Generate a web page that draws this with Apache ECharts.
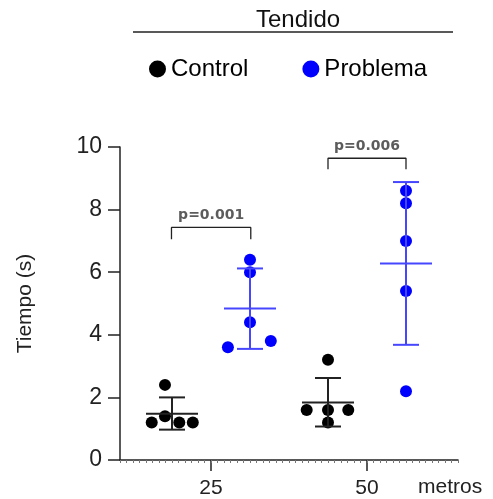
<!DOCTYPE html>
<html>
<head>
<meta charset="utf-8">
<script src="https://cdn.jsdelivr.net/npm/echarts@6/dist/echarts.min.js"></script>
<style>html,body{margin:0;padding:0;background:#fff}#main{width:493px;height:499px}</style>
</head>
<body>
<div id="main"></div>
<script>
var distanceTicks = [3.5, 9.5];
var distanceLabels = ['25', '50'];
var seriesNames = ['Control', 'Problema'];

// individual points: [x position, tiempo (s)]
var control25 = [[1.73, 2.4], [1.73, 1.4], [1.22, 1.2], [2.28, 1.2], [2.8, 1.2]];
var problema25 = [[5, 6.4], [5, 6.0], [5, 4.4], [4.15, 3.6], [5.8, 3.8]];
var control50 = [[8, 3.2], [7.18, 1.6], [8, 1.6], [8.78, 1.6], [8, 1.2]];
var problema50 = [[11, 8.6], [11, 8.2], [11, 7.0], [11, 5.4], [11, 2.2]];

// mean and SD bars: [x position, mean, mean-SD, mean+SD]
var controlBars = [[2, 1.48, 0.97, 2.0], [8, 1.84, 1.07, 2.62]];
var problemaBars = [[5, 4.84, 3.55, 6.12], [11, 6.28, 3.68, 8.88]];

// significance brackets
var bracketLeft = [1.98, 8.0];
var bracketRight = [5.03, 11.0];
var bracketTop = [7.43, 9.64];
var bracketFoot = [7.05, 9.29];
var pValues = ['p=0.001', 'p=0.006'];

var blackDot = '#000000';
var blueDot = '#0000ff';

var myChart = echarts.init(document.getElementById('main'));

function barRenderer(color) {
    return function (params, api) {
        var x = api.value(0);
        var unit = api.size([1, 0])[0];
        var pm = api.coord([x, api.value(1)]);
        var pl = api.coord([x, api.value(2)]);
        var ph = api.coord([x, api.value(3)]);
        var st = {stroke: color, lineWidth: 2};
        return {
            type: 'group',
            children: [
                {type: 'line', shape: {x1: pm[0] - unit, y1: pm[1], x2: pm[0] + unit, y2: pm[1]}, style: st},
                {type: 'line', shape: {x1: pl[0], y1: pl[1], x2: ph[0], y2: ph[1]}, style: st},
                {type: 'line', shape: {x1: pl[0] - unit / 2, y1: pl[1], x2: pl[0] + unit / 2, y2: pl[1]}, style: st},
                {type: 'line', shape: {x1: ph[0] - unit / 2, y1: ph[1], x2: ph[0] + unit / 2, y2: ph[1]}, style: st}
            ]
        };
    };
}

var bracketSeries = [];
var pLabelData = [];
for (var i = 0; i < pValues.length; i++) {
    bracketSeries.push({
        type: 'line',
        silent: true,
        symbol: 'none',
        lineStyle: {color: '#222', width: 1.3},
        data: [[bracketLeft[i], bracketFoot[i]], [bracketLeft[i], bracketTop[i]],
               [bracketRight[i], bracketTop[i]], [bracketRight[i], bracketFoot[i]]]
    });
    pLabelData.push({value: [(bracketLeft[i] + bracketRight[i]) / 2, bracketTop[i]], label: {formatter: pValues[i]}});
}

option = {
    animation: false,
    title: {
        text: 'Tendido',
        left: 251,
        top: 3,
        textStyle: {fontFamily: 'Liberation Sans', fontSize: 24, fontWeight: 'normal', color: '#111'}
    },
    legend: {
        data: seriesNames,
        icon: 'circle',
        left: 144,
        top: 52,
        itemWidth: 17,
        itemHeight: 17,
        itemGap: 54,
        textStyle: {fontFamily: 'Liberation Sans', fontSize: 24, color: '#000'}
    },
    graphic: [
        {type: 'line', shape: {x1: 133, y1: 32, x2: 453, y2: 32}, style: {stroke: '#222', lineWidth: 1.5}},
        {type: 'text', left: 418, top: 477, style: {text: 'metros', fontFamily: 'Liberation Sans', fontSize: 21, fill: '#222'}}
    ],
    grid: {left: 120, right: 35, top: 147, bottom: 37, containLabel: false},
    xAxis: [{
        type: 'value',
        min: 0,
        max: 13,
        axisLine: {lineStyle: {color: '#222', width: 1.5}},
        axisTick: {customValues: distanceTicks, length: 11, lineStyle: {color: '#222', width: 1.5}},
        axisLabel: {
            customValues: distanceTicks,
            margin: 18,
            fontFamily: 'Liberation Sans',
            fontSize: 21,
            color: '#222',
            formatter: function (v) {
                return distanceLabels[distanceTicks.indexOf(v)];
            }
        },
        splitLine: {show: false}
    }, {
        type: 'value',
        min: 0,
        max: 13,
        interval: 0.25,
        position: 'bottom',
        axisLine: {show: false},
        axisTick: {length: 3, lineStyle: {color: '#777', width: 1}},
        axisLabel: {show: false},
        splitLine: {show: false}
    }],
    yAxis: {
        type: 'value',
        min: 0,
        max: 10,
        interval: 2,
        name: 'Tiempo (s)',
        nameLocation: 'middle',
        nameGap: 84,
        nameTextStyle: {fontFamily: 'Liberation Sans', fontSize: 21, color: '#222'},
        axisLine: {show: true, lineStyle: {color: '#222', width: 1.5}},
        axisTick: {show: true, length: 12, lineStyle: {color: '#222', width: 1.5}},
        axisLabel: {margin: 18, fontFamily: 'Liberation Sans', fontSize: 23, color: '#222'},
        splitLine: {show: false}
    },
    series: [
        {name: 'Control', type: 'scatter', symbolSize: 12, itemStyle: {color: blackDot, opacity: 1}, data: control25.concat(control50), z: 3},
        {name: 'Problema', type: 'scatter', symbolSize: 12, itemStyle: {color: blueDot, opacity: 1}, data: problema25.concat(problema50), z: 3},
        {name: 'barsControl', type: 'custom', renderItem: barRenderer('#222'), data: controlBars, z: 4},
        {name: 'barsProblema', type: 'custom', renderItem: barRenderer('#4646ff'), data: problemaBars, z: 4},
        {
            name: 'pvals',
            type: 'scatter',
            symbolSize: 0,
            silent: true,
            label: {show: true, position: 'top', distance: 5, fontFamily: 'DejaVu Sans', fontWeight: 'bold', fontSize: 14, color: '#333'},
            data: pLabelData
        }
    ].concat(bracketSeries)
};

if (option && typeof option === 'object') {
    myChart.setOption(option, true);
}
</script>
</body>
</html>
